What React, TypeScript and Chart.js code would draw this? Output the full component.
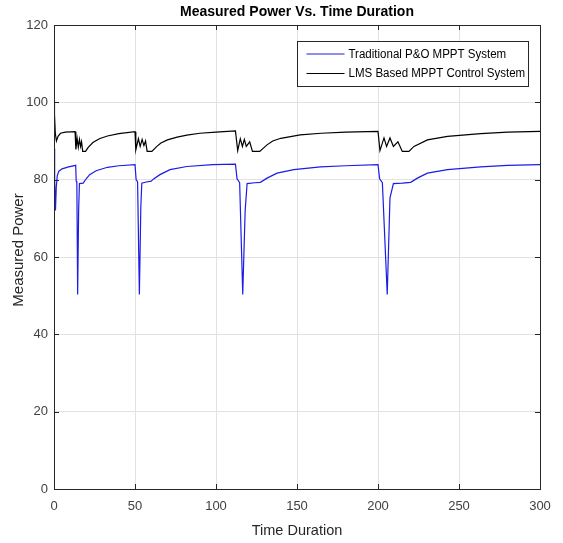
import React, { useEffect, useRef } from "react";
import { Chart, registerables } from "chart.js";

Chart.register(...registerables);

// Time samples and measured power for the traditional P&O tracker
const poTime = [
  0, 0.4, 0.9, 1.4, 2, 3, 5, 9, 13.4, 13.7, 14.1, 14.6, 15.2, 15.7, 18, 20, 22, 26, 33, 40, 50,
  50.7, 51.6, 52.7, 53.6, 54.2, 57, 60, 61.5, 65.4, 71.6, 82, 98, 112,
  113, 114.6, 116.5, 118, 119.2, 124, 127.4, 131.5, 137.7, 148, 164.5, 180, 200,
  201, 202.7, 205.7, 207.4, 209.5, 215, 220.2, 224.3, 230.5, 242.9, 263.4, 280, 300,
];
const poPower = [
  88, 80, 72, 78, 81, 82.2, 82.8, 83.3, 83.7, 79.6, 79.2, 50.3, 72, 79, 79.1, 80.3, 81.3, 82.3, 83.2, 83.6, 83.9,
  80, 79.4, 50.3, 73, 79.1, 79.4, 79.6, 80.2, 81.3, 82.6, 83.4, 83.9, 84,
  80.2, 79.2, 50.3, 72, 79, 79.2, 79.3, 80.4, 81.7, 82.6, 83.3, 83.6, 83.9,
  80.2, 79.2, 50.3, 75.3, 79, 79.1, 79.3, 80.4, 81.7, 82.6, 83.3, 83.7, 83.9,
];

// Time samples and measured power for the LMS based controller
const lmsTime = [
  0, 0.3, 0.8, 1.5, 2.5, 4, 7, 13, 13.5, 14.3, 15, 15.7, 16.4, 17, 17.7, 19.5, 21, 24, 28, 33, 40, 50,
  50.5, 52.1, 53.2, 54.4, 55.5, 56.5, 57.5, 60.4, 63.5, 66, 70, 76, 82, 90, 100, 112,
  113.4, 115, 116.3, 117.5, 118.7, 120.8, 122.5, 127, 131.5, 135, 140, 152, 165, 180, 200,
  201.2, 203.7, 205.3, 207.4, 209.5, 212.3, 215, 219.1, 222.2, 230.5, 242.9, 263.4, 280, 300,
];
const lmsPower = [
  100.5, 97, 92, 90, 91.2, 92, 92.3, 92.4, 87.8, 90.6, 88.4, 90.4, 88.6, 89.8, 87.3, 87.3, 88.3, 89.6, 90.6, 91.3, 91.9, 92.4,
  87.7, 90.6, 88.6, 90.4, 88.8, 90, 87.3, 87.3, 88.6, 89.5, 90.3, 91, 91.5, 92, 92.3, 92.6,
  87.5, 90.6, 88.6, 90.4, 88.6, 89.8, 87.3, 87.3, 89, 90, 90.7, 91.6, 92, 92.3, 92.5,
  87.5, 90.8, 88.6, 90.8, 88.6, 89.8, 87.3, 87.3, 88.6, 90.3, 91.2, 91.9, 92.3, 92.5,
];

const seriesNames = ["Traditional P&O MPPT System", "LMS Based MPPT Control System"];
const seriesColors = ["#1c1ce6", "#000000"];

const chartTitle = "Measured Power Vs. Time Duration";
const xTitle = "Time Duration";
const yTitle = "Measured Power";

const xTicks = { min: 0, max: 300, step: 50 };
const yTicks = { min: 0, max: 120, step: 20 };

const FONT = "'Liberation Sans', Arial, sans-serif";
const AXIS_INK = "#262626";

// Axes box, inward tick marks, titles and the boxed legend inside the plot
const framePlugin = {
  id: "frame",
  afterDraw(chart: any) {
    const { ctx, chartArea: a, scales } = chart;
    ctx.save();
    ctx.strokeStyle = AXIS_INK;
    ctx.lineWidth = 1;
    const tl = 5;
    ctx.beginPath();
    scales.x.ticks.forEach((t: any) => {
      const px = Math.round(scales.x.getPixelForValue(t.value)) + 0.5;
      ctx.moveTo(px, a.bottom);
      ctx.lineTo(px, a.bottom - tl);
      ctx.moveTo(px, a.top);
      ctx.lineTo(px, a.top + tl);
    });
    scales.y.ticks.forEach((t: any) => {
      const py = Math.round(scales.y.getPixelForValue(t.value)) + 0.5;
      ctx.moveTo(a.left, py);
      ctx.lineTo(a.left + tl, py);
      ctx.moveTo(a.right, py);
      ctx.lineTo(a.right - tl, py);
    });
    ctx.stroke();
    ctx.strokeRect(Math.round(a.left) + 0.5, Math.round(a.top) + 0.5, Math.round(a.right - a.left), Math.round(a.bottom - a.top));

    const cx = (a.left + a.right) / 2;
    ctx.textAlign = "center";
    ctx.textBaseline = "middle";

    // chart title
    ctx.fillStyle = "#000000";
    ctx.font = `bold 14px ${FONT}`;
    ctx.fillText(chartTitle, cx, a.top - 13);

    // axis titles
    ctx.fillStyle = AXIS_INK;
    ctx.font = `14.5px ${FONT}`;
    ctx.fillText(xTitle, cx, a.bottom + 42);
    ctx.save();
    ctx.translate(19, (a.top + a.bottom) / 2 - 7);
    ctx.rotate(-Math.PI / 2);
    ctx.font = `15px ${FONT}`;
    ctx.fillText(yTitle, 0, 0);
    ctx.restore();

    // legend
    const bx = Math.round(a.right) - 243 + 0.5;
    const by = Math.round(a.top) + 16 + 0.5;
    const bw = 231;
    const bh = 45;
    ctx.fillStyle = "#ffffff";
    ctx.fillRect(bx, by, bw, bh);
    ctx.strokeStyle = AXIS_INK;
    ctx.strokeRect(bx, by, bw, bh);
    ctx.font = `12px ${FONT}`;
    ctx.textAlign = "left";
    chart.data.datasets.forEach((ds: any, i: number) => {
      const ry = by + 12.5 + i * 19.5;
      ctx.strokeStyle = ds.borderColor;
      ctx.lineWidth = 1.2;
      ctx.beginPath();
      ctx.moveTo(bx + 9, ry);
      ctx.lineTo(bx + 47, ry);
      ctx.stroke();
      ctx.fillStyle = "#000000";
      ctx.save();
      ctx.translate(bx + 51, ry + 0.5);
      ctx.scale(0.96, 1);
      ctx.fillText(ds.label, 0, 0);
      ctx.restore();
    });
    ctx.restore();
  },
};

export default function App() {
  const canvasRef = useRef<HTMLCanvasElement | null>(null);

  useEffect(() => {
    if (!canvasRef.current) return;
    const toPoints = (xs: number[], ys: number[]) => xs.map((x, i) => ({ x, y: ys[i] }));
    const chart = new Chart(canvasRef.current, {
      type: "line",
      data: {
        datasets: [
          {
            label: seriesNames[0],
            data: toPoints(poTime, poPower),
            borderColor: seriesColors[0],
            borderWidth: 1.2,
            pointRadius: 0,
            tension: 0,
          },
          {
            label: seriesNames[1],
            data: toPoints(lmsTime, lmsPower),
            borderColor: seriesColors[1],
            borderWidth: 1.2,
            pointRadius: 0,
            tension: 0,
          },
        ],
      },
      options: {
        animation: false,
        responsive: false,
        parsing: false,
        layout: { padding: { left: 0, right: 23, top: 25, bottom: 0 } },
        plugins: {
          legend: { display: false },
          tooltip: { enabled: false },
          title: { display: false },
        },
        scales: {
          x: {
            type: "linear",
            min: xTicks.min,
            max: xTicks.max,
            afterFit: (s: any) => {
              s.height = 54;
            },
            ticks: {
              stepSize: xTicks.step,
              color: "#404040",
              font: { family: FONT, size: 13 },
              padding: 10,
              maxRotation: 0,
            },
            grid: { color: "#e2e2e2", drawTicks: false },
            border: { display: false },
          },
          y: {
            type: "linear",
            min: yTicks.min,
            max: yTicks.max,
            afterFit: (s: any) => {
              s.width = 54;
            },
            ticks: {
              stepSize: yTicks.step,
              color: "#404040",
              font: { family: FONT, size: 13 },
              padding: 6,
            },
            grid: { color: "#e2e2e2", drawTicks: false },
            border: { display: false },
          },
        },
      },
      plugins: [framePlugin],
    } as any);
    return () => chart.destroy();
  }, []);

  return (
    <div style={{ position: "fixed", left: 0, top: 0, width: 563, height: 543, background: "#ffffff" }}>
      <canvas ref={canvasRef} width={563} height={543} style={{ display: "block" }} />
    </div>
  );
}
